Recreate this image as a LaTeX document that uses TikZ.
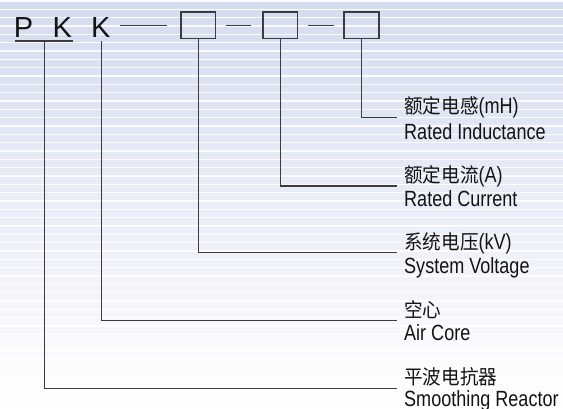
\documentclass[tikz,border=0pt]{standalone}
\usepackage{fontspec}
\setmainfont{Liberation Sans}
\newfontfamily\lab{Liberation Sans}[FakeStretch=0.82]
\newfontfamily\cjk{Noto Sans CJK SC}[FakeStretch=0.93]
\definecolor{bgtop}{RGB}{212,220,240}
\definecolor{ink}{RGB}{20,20,20}
\definecolor{wire}{RGB}{60,60,60}
\newcommand{\cn}[1]{{\cjk\fontsize{20}{22}\selectfont #1}}
\tikzset{
  letter/.style={inner sep=0pt, anchor=base, text=ink, font=\fontsize{29}{30}\selectfont},
  slot/.style={draw=wire, line width=1.5pt, minimum width=34.7pt, minimum height=26.5pt, inner sep=0pt},
  wirel/.style={draw=wire, line width=1.3pt},
  cnlab/.style={inner sep=0pt, anchor=base west, text=ink, font=\lab\fontsize{22}{24}\selectfont},
  enlab/.style={inner sep=0pt, anchor=base west, text=ink, font=\lab\fontsize{22}{24}\selectfont},
}
\begin{document}
\begin{tikzpicture}[x=1pt,y=-1pt]
\useasboundingbox (0,0) rectangle (563,408);
% background
\shade[top color=bgtop, bottom color=white] (0,0) rectangle (563,408);
\foreach \i in {0,...,49} {
  \fill[white, opacity=0.9] (0,{1+8.33*\i-0.65}) rectangle (563,{1+8.33*\i+0.65});
}
% code letters
\node[letter] (P) at (23.6,37.8) {P};
\node[letter] (K1) at (62.2,37.8) {K};
\node[letter] (K2) at (100.8,37.8) {K};
% boxes
\node[slot] (b1) at (198.3,25.2) {};
\node[slot] (b2) at (280.2,25.2) {};
\node[slot] (b3) at (361.5,25.2) {};
% dashes
\draw[wirel, shorten <=9pt, shorten >=13.3pt] (K2.east |- b1.west) -- (b1.west);
\draw[wirel, shorten <=9.3pt, shorten >=10.7pt] (b1.east) -- (b2.west);
\draw[wirel, shorten <=9.3pt, shorten >=9pt] (b2.east) -- (b3.west);
% underline
\coordinate (u1) at (15,41);
\coordinate (u2) at (73.3,41);
\draw[wirel] (u1) -- (u2);
\coordinate (pu) at (44.3,41);
\coordinate (ku) at (101.7,41);
% line ends
\coordinate (e5) at (397,117.3);
\coordinate (e4) at (397,186);
\coordinate (e3) at (397,252.7);
\coordinate (e2) at (397,320.7);
\coordinate (e1) at (397,388.3);
% connectors
\draw[wirel] (b3.south) |- (e5);
\draw[wirel] (b2.south) |- (e4);
\draw[wirel] (b1.south) |- (e3);
\draw[wirel] (ku) |- (e2);
\draw[wirel] (pu) |- (e1);
% labels
\node[cnlab] (c5) at (404,113.8) {\cn{额定电感}(mH)};
\node[enlab] (n5) at (404,139) {Rated Inductance};
\node[cnlab] (c4) at (404,182.5) {\cn{额定电流}(A)};
\node[enlab] (n4) at (404,206.5) {Rated Current};
\node[cnlab] (c3) at (404,249.2) {\cn{系统电压}(kV)};
\node[enlab] (n3) at (404,273) {System Voltage};
\node[cnlab] (c2) at (404,317.2) {\cn{空心}};
\node[enlab] (n2) at (404,340) {Air Core};
\node[cnlab] (c1) at (404,384.8) {\cn{平波电抗器}};
\node[enlab] (n1) at (404,406.5) {Smoothing Reactor};
\end{tikzpicture}
\end{document}
